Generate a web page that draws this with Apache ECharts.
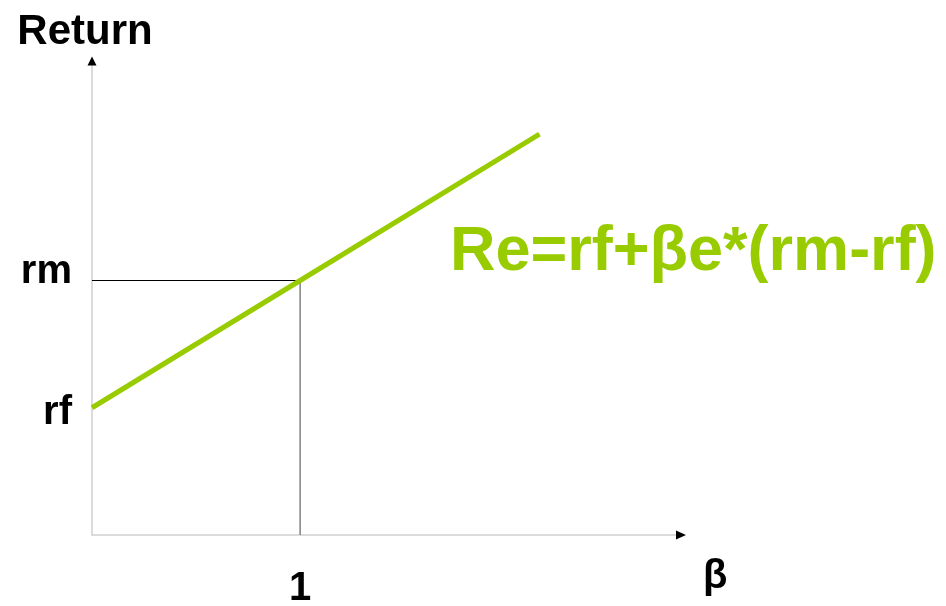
<!DOCTYPE html>
<html>
<head>
<meta charset="utf-8">
<title>Security Market Line</title>
<script src="https://cdn.jsdelivr.net/npm/echarts@6/dist/echarts.min.js"></script>
<style>
  html, body { margin: 0; padding: 0; background: #ffffff; }
  #chart { width: 946px; height: 606px; }
</style>
</head>
<body>
<div id="chart"></div>
<script>
// Risk-free rate and market return on the return axis
const rf = 4;
const rm = 8;
// Beta values along the security market line and the returns they give
const betaValues = [0, 1, 2.15];
const returnValues = [4, 8, 12.6];
// Market point (beta = 1, return = rm) guide lines
const guideH = [[0, rm], [1, rm]];
const guideV = [[1, rm], [1, 0]];
// Axis extents
const betaMax = 2.83;
const returnMax = 14.9;
// Tick labels
const xTickLabels = { 1: '1' };
const yTickLabels = { 4: 'rf', 8: 'rm' };
const xAxisTitle = 'β';
const yAxisTitle = 'Return';
const formulaText = 'Re=rf+βe*(rm-rf)';

const FONT = '"Liberation Sans", Arial, Helvetica, sans-serif';
const GREEN = '#99cc00';

const chart = echarts.init(document.getElementById('chart'), null, { renderer: 'canvas' });

const smlData = betaValues.map((b, i) => [b, returnValues[i]]);

chart.setOption({
  animation: false,
  backgroundColor: '#ffffff',
  grid: {
    left: 92, right: 946 - 681, top: 61, bottom: 606 - 535,
    containLabel: false,
    outerBoundsMode: 'none'
  },
  xAxis: {
    type: 'value',
    min: 0,
    max: betaMax,
    interval: 1,
    name: '{b|' + xAxisTitle + '}',
    nameLocation: 'end',
    nameGap: 22,
    nameTextStyle: {
      verticalAlign: 'middle',
      rich: {
        b: { fontFamily: FONT, fontSize: 40, fontWeight: 'bold', color: '#000', padding: [84, 0, 0, 0] }
      }
    },
    axisLine: { show: true, lineStyle: { color: '#cfcfcf', width: 1.5 } },
    axisTick: { show: false },
    splitLine: { show: false },
    axisLabel: {
      margin: 34,
      fontFamily: FONT, fontSize: 40, fontWeight: 'bold', color: '#000',
      showMaxLabel: false,
      formatter: v => xTickLabels[v] || ''
    }
  },
  yAxis: {
    type: 'value',
    min: 0,
    max: returnMax,
    interval: 4,
    name: yAxisTitle,
    nameLocation: 'end',
    nameGap: 8,
    nameTextStyle: {
      fontFamily: FONT, fontSize: 42, fontWeight: 'bold', color: '#000',
      align: 'center', padding: [0, 14, 0, 0]
    },
    axisLine: { show: true, lineStyle: { color: '#cfcfcf', width: 1.5 } },
    axisTick: { show: false },
    splitLine: { show: false },
    axisLabel: {
      margin: 20,
      showMaxLabel: false,
      formatter: v => {
        const t = yTickLabels[v];
        return t ? '{' + t + '|' + t + '}' : '';
      },
      rich: {
        rm: { fontFamily: FONT, fontSize: 40, fontWeight: 'bold', color: '#000', padding: [0, 0, 18, 0] },
        rf: { fontFamily: FONT, fontSize: 40, fontWeight: 'bold', color: '#000', padding: [10, 0, 0, 0] }
      }
    }
  },
  series: [
    {
      name: 'guide-h',
      type: 'line',
      data: guideH,
      symbol: 'none',
      silent: true,
      lineStyle: { color: '#000000', width: 1.2 },
      z: 2
    },
    {
      name: 'guide-v',
      type: 'line',
      data: guideV,
      symbol: 'none',
      silent: true,
      lineStyle: { color: '#808080', width: 1.5 },
      z: 2
    },
    {
      name: 'SML',
      type: 'line',
      data: smlData,
      symbol: 'none',
      lineStyle: { color: GREEN, width: 5, cap: 'butt' },
      z: 3,
      // arrow heads at the ends of both axes
      markPoint: {
        silent: true,
        label: { show: false },
        data: [
          { coord: [betaMax, 0], symbol: 'triangle', symbolSize: [9, 10], symbolRotate: -90,
            itemStyle: { color: '#000' } },
          { coord: [0, returnMax], symbol: 'triangle', symbolSize: [9, 9],
            itemStyle: { color: '#000' } }
        ]
      }
    }
  ],
  graphic: [
    {
      type: 'text',
      left: 450,
      top: 221,
      style: {
        text: formulaText,
        fill: GREEN,
        font: 'bold 63px ' + FONT
      }
    }
  ]
});
</script>
</body>
</html>
